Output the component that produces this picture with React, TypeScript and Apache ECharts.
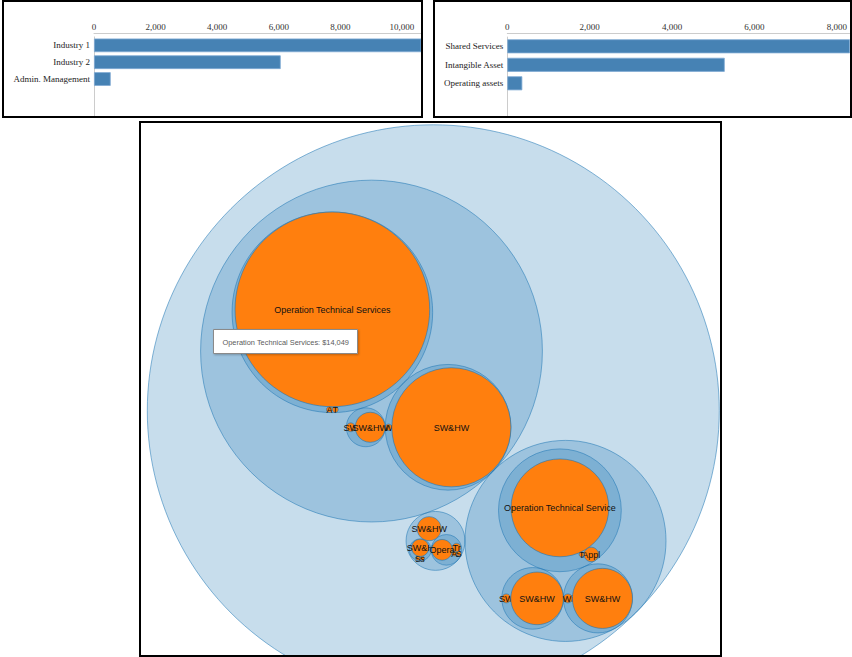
import React, { useEffect, useRef } from "react";
import * as echarts from "echarts";

// ---------------- data ----------------
// Bar chart 1: totals of the three industries (sums of the hierarchy below)
const industryNames = ["Industry 1", "Industry 2", "Admin. Management"];
// Bar chart 2: Industry 1 broken down by category
const categoryNames = ["Shared Services", "Intangible Asset", "Operating assets"];

// Pack hierarchy: internal nodes (index, parent index)
const groupNames = [
  "Total",
  "Industry 1", "Industry 2", "Admin. Management",
  "Shared Services", "Intangible Asset", "Operating assets",
  "Shared Services", "Intangible Asset", "Operating assets",
  "Intangible Asset", "Shared Services",
];
const groupParents = [-1, 0, 0, 0, 1, 1, 1, 2, 2, 2, 3, 3];

// Pack hierarchy: leaves (listed in data order, which is also the drawing order)
const leafNames = [
  "Asset Tracking", "Telecom", "Operation Technical Services",
  "Web Hosting", "SW&HW",
  "SW Licenses", "SW&HW",
  "Applications", "Telephony", "Operation Technical Services",
  "SW Support", "SW&HW",
  "Wireless", "SW&HW",
  "Security", "storage", "SW&HW",
  "Audit", "Storage", "Training", "Operation Technical Services",
  "SW&HW",
];
const leafParents = [
  4, 4, 4,
  5, 5,
  6, 6,
  7, 7, 7,
  8, 8,
  9, 9,
  10, 10, 10,
  11, 11, 11, 11,
  3,
];
const leafValues = [
  13, 13, 14049,
  16, 5262,
  29, 335,
  78, 9, 3550,
  30, 1027,
  30, 1338,
  7, 7, 110,
  8, 8, 27, 160,
  215,
];

// ---------------- hierarchy + d3 v3 style circle packing ----------------
interface PNode {
  name: string;
  value: number;
  depth: number;
  children: PNode[];
  orig: PNode[];
  x: number;
  y: number;
  r: number;
  nx?: PNode;
  pv?: PNode;
}

function mk(name: string, value: number): PNode {
  return { name, value, depth: 0, children: [], orig: [], x: 0, y: 0, r: 0 };
}

function buildTree() {
  const groups = groupNames.map((n) => mk(n, 0));
  let root = groups[0];
  groupParents.forEach((p, i) => {
    if (p < 0) root = groups[i];
    else groups[p].children.push(groups[i]);
  });
  leafNames.forEach((n, i) => groups[leafParents[i]].children.push(mk(n, leafValues[i])));
  const sum = (n: PNode, d: number): number => {
    n.depth = d;
    n.orig = [...n.children];
    if (n.children.length) {
      n.value = n.children.reduce((s, c) => s + sum(c, d + 1), 0);
      n.children.sort((a, b) => a.value - b.value);
    }
    return n.value;
  };
  sum(root, 0);
  return { root, groups };
}

function place(a: PNode, b: PNode, c: PNode) {
  let db = a.r + c.r;
  const dx = b.x - a.x, dy = b.y - a.y;
  if (db && (dx || dy)) {
    let da = b.r + c.r;
    const dc = dx * dx + dy * dy;
    da *= da;
    db *= db;
    const x = 0.5 + (db - da) / (2 * dc);
    const t = db - dc;
    const y = Math.sqrt(Math.max(0, 2 * da * (db + dc) - t * t - da * da)) / (2 * dc);
    c.x = a.x + x * dx + y * dy;
    c.y = a.y + x * dy - y * dx;
  } else {
    c.x = a.x + db;
    c.y = a.y;
  }
}
function insert(a: PNode, b: PNode) {
  const c = a.nx!;
  a.nx = b;
  b.pv = a;
  b.nx = c;
  c.pv = b;
}
function splice(a: PNode, b: PNode) {
  a.nx = b;
  b.pv = a;
}
function intersects(a: PNode, b: PNode) {
  const dx = b.x - a.x, dy = b.y - a.y, dr = a.r + b.r;
  return 0.999 * dr * dr > dx * dx + dy * dy;
}

function packSiblings(node: PNode) {
  const nodes = node.children;
  const n = nodes.length;
  if (!n) return;
  let xMin = Infinity, xMax = -Infinity, yMin = Infinity, yMax = -Infinity;
  const bound = (q: PNode) => {
    xMin = Math.min(q.x - q.r, xMin);
    xMax = Math.max(q.x + q.r, xMax);
    yMin = Math.min(q.y - q.r, yMin);
    yMax = Math.max(q.y + q.r, yMax);
  };
  nodes.forEach((q) => { q.nx = q; q.pv = q; });
  let a = nodes[0];
  a.x = -a.r;
  a.y = 0;
  bound(a);
  if (n > 1) {
    let b = nodes[1];
    b.x = b.r;
    b.y = 0;
    bound(b);
    if (n > 2) {
      let c = nodes[2];
      place(a, b, c);
      bound(c);
      insert(a, c);
      a.pv = c;
      insert(c, b);
      b = a.nx!;
      for (let i = 3; i < n; i++) {
        c = nodes[i];
        place(a, b, c);
        let isect = 0, s1 = 1, s2 = 1;
        let j: PNode = b.nx!;
        let k: PNode = a.pv!;
        for (j = b.nx!; j !== b; j = j.nx!, s1++) {
          if (intersects(j, c)) { isect = 1; break; }
        }
        if (isect === 1) {
          for (k = a.pv!; k !== j.pv; k = k.pv!, s2++) {
            if (intersects(k, c)) break;
          }
        }
        if (isect) {
          if (s1 < s2 || (s1 === s2 && b.r < a.r)) { b = j; splice(a, b); }
          else { a = k; splice(a, b); }
          i--;
        } else {
          insert(a, c);
          b = c;
          bound(c);
        }
      }
    }
  }
  const cx = (xMin + xMax) / 2, cy = (yMin + yMax) / 2;
  let cr = 0;
  nodes.forEach((q) => {
    q.x -= cx;
    q.y -= cy;
    cr = Math.max(cr, q.r + Math.sqrt(q.x * q.x + q.y * q.y));
  });
  node.r = cr;
  nodes.forEach((q) => { delete q.nx; delete q.pv; });
}

function visitAfter(n: PNode, f: (n: PNode) => void) {
  n.children.forEach((c) => visitAfter(c, f));
  f(n);
}

function packLayout() {
  const { root, groups } = buildTree();
  visitAfter(root, (d) => { d.r = Math.sqrt(d.value); });
  visitAfter(root, packSiblings);
  const tr = (n: PNode, x: number, y: number) => {
    n.x = x + n.x;
    n.y = y + n.y;
    n.children.forEach((c) => tr(c, n.x, n.y));
  };
  root.x = 0;
  root.y = 0;
  tr(root, 0, 0);
  // drawing order: pre-order in the data's own order
  const flat: PNode[] = [];
  const walk = (n: PNode) => {
    flat.push(n);
    n.orig.forEach(walk);
  };
  walk(root);
  return { root, groups, flat };
}

// ---------------- options ----------------
const SERIF = '"Liberation Serif", "Times New Roman", serif';
const SANS = '"Liberation Sans", Arial, sans-serif';
const PX_PER_CHAR = 1.78;

function barOption(
  names: string[],
  values: number[],
  cfg: { left: number; top: number; width: number; band: number; barWidth: number; max: number; offset: number }
) {
  return {
    animation: false,
    grid: { left: cfg.left, top: cfg.top, width: cfg.width, height: cfg.band * 5 },
    xAxis: {
      type: "value",
      position: "top",
      min: 0,
      max: cfg.max,
      interval: 2000,
      offset: cfg.offset,
      axisLine: { show: true, lineStyle: { color: "#cccccc", width: 1 } },
      axisTick: { show: false },
      splitLine: { show: false },
      axisLabel: { showMaxLabel: false, margin: 2, color: "#333", fontFamily: SERIF, fontSize: 9 },
    },
    yAxis: {
      type: "category",
      inverse: true,
      data: [...names, "", ""],
      axisLine: { show: true, lineStyle: { color: "#cccccc", width: 1 } },
      axisTick: { show: false },
      axisLabel: { margin: 4, color: "#222", fontFamily: SERIF, fontSize: 9 },
    },
    series: [
      {
        type: "bar",
        data: values,
        barWidth: cfg.barWidth,
        silent: true,
        itemStyle: { color: "#4682b4", borderColor: "#7fa9d3", borderWidth: 0.8 },
      },
    ],
  };
}

export default function App() {
  const r1 = useRef<HTMLDivElement>(null);
  const r2 = useRef<HTMLDivElement>(null);
  const r3 = useRef<HTMLDivElement>(null);

  useEffect(() => {
    const { root, groups, flat } = packLayout();
    const industryTotals = [groups[1].value, groups[2].value, groups[3].value];
    const categoryTotals = [groups[4].value, groups[5].value, groups[6].value];

    const c1 = echarts.init(r1.current!, undefined, { renderer: "svg" });
    c1.setOption(
      barOption(industryNames, industryTotals, {
        left: 90, top: 34.9, width: 327, band: 16.85, barWidth: 13.7, max: 10617, offset: 3.6,
      })
    );
    const c2 = echarts.init(r2.current!, undefined, { renderer: "svg" });
    c2.setOption(
      barOption(categoryNames, categoryTotals, {
        left: 72.3, top: 35.05, width: 342.7, band: 18.5, barWidth: 14, max: 8308, offset: 3.75,
      })
    );

    const R = root.r;
    const big = flat.filter((n) => !n.children.length).reduce((m, n) => (n.value > m.value ? n : m));
    const tipText = `${big.name}: $${big.value.toLocaleString("en-US")}`;

    const c3 = echarts.init(r3.current!, undefined, { renderer: "svg" });
    c3.setOption({
      animation: false,
      grid: { left: 6.3, top: 1.8, width: 572, height: 572 },
      xAxis: { type: "value", min: -R, max: R, show: false },
      yAxis: { type: "value", min: -R, max: R, inverse: true, show: false },
      series: [
        {
          type: "custom",
          silent: true,
          coordinateSystem: "cartesian2d",
          encode: { x: 0, y: 1 },
          data: flat.map((n) => [n.x, n.y, n.r]),
          renderItem: (params: any, api: any) => {
            const node = flat[params.dataIndex];
            const p = api.coord([api.value(0), api.value(1)]);
            const rPx = api.size([api.value(2), 0])[0];
            const leaf = !node.children.length;
            const circle = {
              type: "circle",
              shape: { cx: p[0], cy: p[1], r: rPx },
              style: leaf
                ? { fill: "#ff7f0e", stroke: "rgba(31,119,180,0.85)", lineWidth: 0.7 }
                : { fill: "rgba(31,119,180,0.25)", stroke: "rgba(31,119,180,0.9)", lineWidth: 0.6 },
            };
            if (!leaf) return circle;
            const label = node.name.substring(0, Math.floor(rPx / PX_PER_CHAR));
            return {
              type: "group",
              children: [
                circle,
                {
                  type: "text",
                  style: {
                    text: label,
                    x: p[0],
                    y: p[1] + 0.5,
                    align: "center",
                    verticalAlign: "middle",
                    font: `9px ${SANS}`,
                    fill: "#111",
                  },
                },
              ],
            };
          },
        },
      ],
      graphic: [
        {
          type: "rect",
          z: 100,
          shape: { x: 72.5, y: 206.5, width: 144, height: 24 },
          style: {
            fill: "#ffffff",
            stroke: "#8a8a8a",
            lineWidth: 1,
            shadowBlur: 2,
            shadowColor: "rgba(0,0,0,0.25)",
            shadowOffsetX: 1,
            shadowOffsetY: 1,
          },
        },
        {
          type: "text",
          z: 101,
          style: {
            text: tipText,
            x: 81.5,
            y: 219,
            verticalAlign: "middle",
            font: `7.4px ${SANS}`,
            fill: "#5a5a5a",
          },
        },
      ],
    });

    return () => {
      c1.dispose();
      c2.dispose();
      c3.dispose();
    };
  }, []);

  const panel = (left: number, top: number, width: number, height: number): React.CSSProperties => ({
    position: "absolute",
    left,
    top,
    width,
    height,
    border: "2px solid #000",
    boxSizing: "border-box",
    background: "#fff",
    overflow: "hidden",
  });

  return (
    <div style={{ position: "absolute", left: 0, top: 0, width: 852, height: 657, background: "#fff", overflow: "hidden" }}>
      <div style={panel(2, 0, 421, 118)}>
        <div ref={r1} style={{ width: 417, height: 140 }} />
      </div>
      <div style={panel(433, 0, 419, 118)}>
        <div ref={r2} style={{ width: 415, height: 140 }} />
      </div>
      <div style={panel(139, 121, 583, 536)}>
        <div ref={r3} style={{ width: 579, height: 590 }} />
      </div>
    </div>
  );
}
